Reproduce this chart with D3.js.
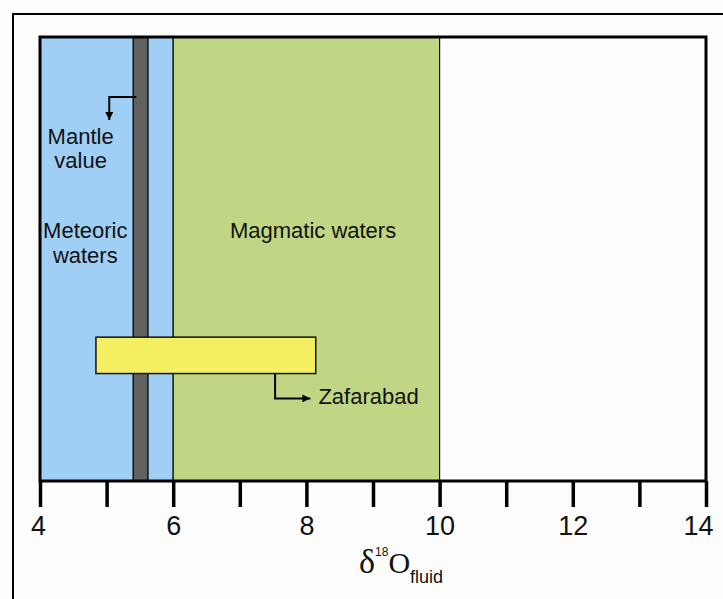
<!DOCTYPE html>
<html><head><meta charset="utf-8">
<script src="https://cdn.jsdelivr.net/npm/d3@7"></script>
<style>body{margin:0;background:#fdfdfd}svg{display:block}text{font-family:"Liberation Sans",Arial,sans-serif;fill:#111}</style>
</head><body><svg id="c" width="723" height="599"></svg>
<script>
// Data
const bandNames = ["Meteoric waters", "Magmatic waters", "Mantle value"];
const bandStart = [4, 6, 5.4];
const bandEnd   = [6, 10, 5.62];
const bandColors = ["#9fcff4", "#c1d684", "#626262"];
const sampleName = "Zafarabad";
const sampleRange = [4.84, 8.14];
const tickValues = [4, 5, 6, 7, 8, 9, 10, 11, 12, 13, 14];
const tickLabels = ["4", "", "6", "", "8", "", "10", "", "12", "", "14"];

const svg = d3.select("#c");
const x = d3.scaleLinear().domain([4, 14]).range([40, 706]);
const y = d3.scaleLinear().domain([0, 100]).range([481, 37]);

// outer frame
svg.append("rect").attr("x", 13).attr("y", 14).attr("width", 800).attr("height", 700)
  .attr("fill", "#fdfdfd").attr("stroke", "#000").attr("stroke-width", 2);
// plot background
svg.append("rect").attr("x", x(4)).attr("y", y(100)).attr("width", x(14) - x(4)).attr("height", y(0) - y(100))
  .attr("fill", "#fefefe");

// bands
svg.selectAll("rect.band").data(bandNames).enter().append("rect").attr("class", "band")
  .attr("x", (d, i) => x(bandStart[i])).attr("width", (d, i) => x(bandEnd[i]) - x(bandStart[i]))
  .attr("y", y(100)).attr("height", y(0) - y(100))
  .attr("fill", (d, i) => bandColors[i])
  .attr("stroke", "#111").attr("stroke-width", (d, i) => i === 2 ? 1.5 : 1.2);

// Zafarabad bar
svg.append("rect").attr("x", x(sampleRange[0])).attr("width", x(sampleRange[1]) - x(sampleRange[0]))
  .attr("y", y(32.4)).attr("height", y(24.2) - y(32.4))
  .attr("fill", "#f4ef62").attr("stroke", "#111").attr("stroke-width", 1.5);

// plot frame
svg.append("rect").attr("x", x(4)).attr("y", y(100)).attr("width", x(14) - x(4)).attr("height", y(0) - y(100))
  .attr("fill", "none").attr("stroke", "#000").attr("stroke-width", 3);

// axis
const axis = d3.axisBottom(x).tickValues(tickValues).tickSize(26).tickPadding(9)
  .tickFormat((d, i) => tickLabels[i]);
const g = svg.append("g").attr("transform", `translate(0,${y(0)})`).call(axis);
g.select(".domain").remove();
g.selectAll(".tick line").attr("stroke", "#000").attr("stroke-width", 3.5);
g.selectAll(".tick text").attr("font-size", 27).attr("fill", "#111")
  .attr("font-family", "Liberation Sans, Arial, sans-serif")
  .attr("dy", "0.72em")
  .attr("dx", d => d === 14 ? -8 : (d === 4 ? -2 : 0));

// arrow marker
const defs = svg.append("defs");
defs.append("marker").attr("id", "ah").attr("viewBox", "0 0 10 10").attr("refX", 10).attr("refY", 5)
  .attr("markerWidth", 8).attr("markerHeight", 8).attr("markerUnits", "userSpaceOnUse").attr("orient", "auto")
  .append("path").attr("d", "M0,0L10,5L0,10Z").attr("fill", "#000");

// Mantle arrow
const mx = x(bandStart[2]);
svg.append("path").attr("d", `M${mx + 3},${y(86.5)}H${x(5.04)}V${y(81.3)}`)
  .attr("fill", "none").attr("stroke", "#000").attr("stroke-width", 2).attr("marker-end", "url(#ah)");
svg.append("text").attr("x", x(4.61)).attr("y", 144).attr("text-anchor", "middle").attr("font-size", 22).text("Mantle");
svg.append("text").attr("x", x(4.61)).attr("y", 168).attr("text-anchor", "middle").attr("font-size", 22).text("value");

// Meteoric label
const mw = bandNames[0].split(" ");
svg.append("text").attr("x", x(4.68)).attr("y", 238).attr("text-anchor", "middle").attr("font-size", 22).text(mw[0]);
svg.append("text").attr("x", x(4.68)).attr("y", 263).attr("text-anchor", "middle").attr("font-size", 22).text(mw[1]);

// Magmatic label
svg.append("text").attr("x", x(8.1)).attr("y", 238).attr("text-anchor", "middle").attr("font-size", 22).text(bandNames[1]);

// Zafarabad arrow
svg.append("path").attr("d", `M${x(7.53)},${y(24.2)}V${y(18.6)}H${x(8.06)}`)
  .attr("fill", "none").attr("stroke", "#000").attr("stroke-width", 2).attr("marker-end", "url(#ah)");
svg.append("text").attr("x", x(8.18)).attr("y", 404).attr("font-size", 22).text(sampleName);

// axis title (single text element with tspans, no horizontal overlap)
const title = svg.append("text").attr("x", 359).attr("y", 573);
title.append("tspan").attr("font-family", "Liberation Serif, Times New Roman, serif").attr("font-size", 34).text("δ");
title.append("tspan").attr("dy", -17).attr("font-size", 12).text("18");
title.append("tspan").attr("dy", 17)
  .attr("font-family", "Liberation Serif, Times New Roman, serif").attr("font-size", 30).text("O");
title.append("tspan").attr("dy", 10).attr("font-size", 18).text("fluid");
</script></body></html>
